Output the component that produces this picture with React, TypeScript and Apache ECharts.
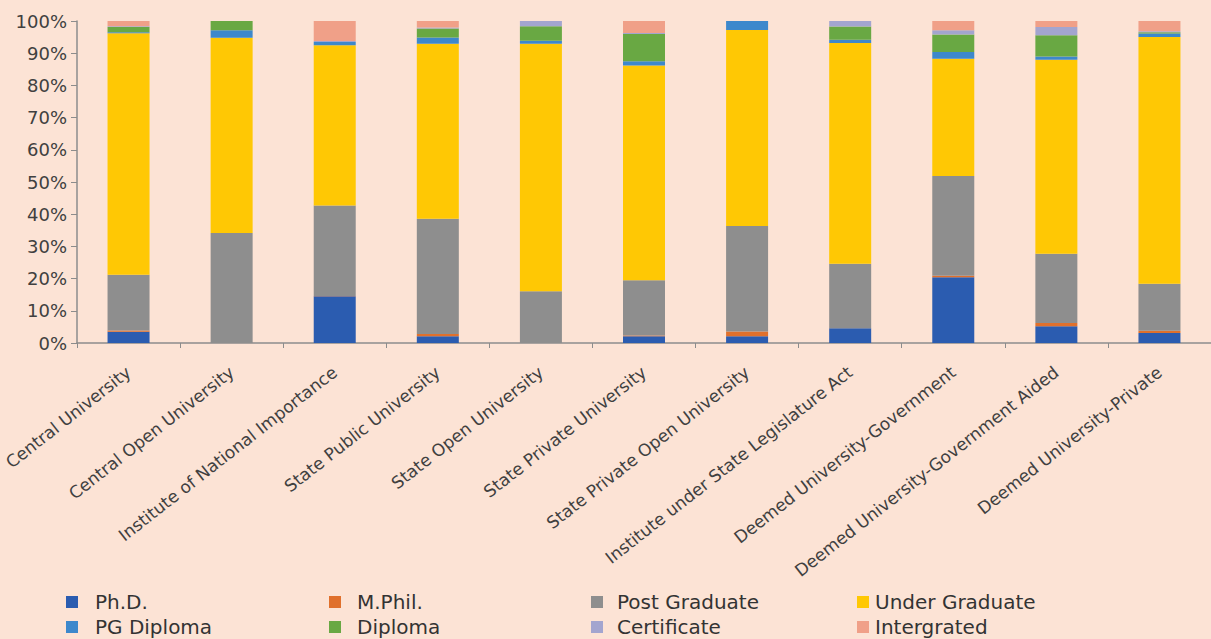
import React, { useEffect, useRef } from "react";
import * as echarts from "echarts";

const categories = [
  "Central University",
  "Central Open University",
  "Institute of National Importance",
  "State Public University",
  "State Open University",
  "State Private University",
  "State Private Open University",
  "Institute under State Legislature Act",
  "Deemed University-Government",
  "Deemed University-Government Aided",
  "Deemed University-Private",
];

const phd = [3.5, 0, 14.5, 2.1, 0, 2.1, 2.1, 4.6, 20.4, 5.2, 3.1];
const mphil = [0.4, 0, 0.1, 0.7, 0, 0.2, 1.5, 0, 0.5, 1.0, 0.7];
const postGraduate = [17.3, 34.2, 28.1, 35.8, 16.1, 17.2, 32.7, 20.0, 31.0, 21.5, 14.6];
const underGraduate = [75.0, 60.6, 49.8, 54.3, 76.8, 66.7, 60.9, 68.6, 36.4, 60.3, 76.6];
const pgDiploma = [0.3, 2.3, 1.0, 2.0, 1.0, 1.3, 2.8, 1.0, 2.1, 1.0, 1.1];
const diploma = [1.6, 2.9, 0, 2.8, 4.5, 8.5, 0, 4.1, 5.4, 6.6, 0.4];
const certificate = [0.3, 0, 0.3, 0.3, 1.6, 0.3, 0, 1.7, 1.3, 2.5, 0.3];
const integrated = [1.6, 0, 6.2, 2.0, 0, 3.7, 0, 0, 2.9, 1.9, 3.2];

const seriesNames = [
  "Ph.D.",
  "M.Phil.",
  "Post Graduate",
  "Under Graduate",
  "PG Diploma",
  "Diploma",
  "Certificate",
  "Intergrated",
];
const seriesData = [phd, mphil, postGraduate, underGraduate, pgDiploma, diploma, certificate, integrated];
const colors = ["#2b5cb0", "#e0702c", "#8e8e8e", "#ffc804", "#3d88cc", "#69a843", "#a3a5cf", "#f0a088"];

const yTicks = [0, 10, 20, 30, 40, 50, 60, 70, 80, 90, 100];

// legend layout: [left, top, text gap] per series (order of seriesNames)
const legendSlots: [number, number, number][] = [
  [66, 592, 12],
  [329, 592, 11],
  [591, 592, 9],
  [857, 592, 1],
  [66, 617, 12],
  [329, 617, 11],
  [591, 617, 9],
  [857, 617, 1],
];

export default function App() {
  const ref = useRef<HTMLDivElement>(null);
  useEffect(() => {
    if (!ref.current) return;
    const chart = echarts.init(ref.current, null, { renderer: "svg" });
    const font = "DejaVu Sans";
    chart.setOption({
      animation: false,
      backgroundColor: "#fce3d5",
      textStyle: { fontFamily: font },
      grid: { left: 77, right: -8, top: 21, bottom: 296, containLabel: false },
      legend: seriesNames.map((name, i) => ({
        orient: "horizontal",
        left: legendSlots[i][0],
        top: legendSlots[i][1],
        padding: 0,
        itemWidth: 12,
        itemHeight: 12,
        icon: "rect",
        data: [name],
        selectedMode: false,
        textStyle: {
          fontSize: 20,
          color: "#333333",
          fontFamily: font,
          padding: [0, 0, 0, legendSlots[i][2]],
        },
      })),
      xAxis: {
        type: "category",
        data: categories,
        axisLine: { lineStyle: { color: "#8c8c8c", width: 1.5 } },
        axisTick: { show: true, length: 5, alignWithLabel: false, lineStyle: { color: "#8c8c8c" } },
        axisLabel: {
          rotate: 38,
          interval: 0,
          margin: 27,
          fontSize: 17,
          color: "#404040",
          fontFamily: font,
        },
      },
      yAxis: {
        type: "value",
        min: 0,
        max: yTicks[yTicks.length - 1],
        interval: 10,
        splitLine: { show: false },
        axisLine: { show: true, lineStyle: { color: "#8c8c8c", width: 1.5 } },
        axisTick: { show: true, length: 6, lineStyle: { color: "#8c8c8c" } },
        axisLabel: {
          formatter: "{value}%",
          fontSize: 18,
          color: "#404040",
          margin: 10,
          fontFamily: font,
        },
      },
      series: seriesNames.map((name, i) => ({
        name,
        type: "bar",
        stack: "total",
        barWidth: 42,
        data: seriesData[i],
        itemStyle: { color: colors[i] },
      })),
    });
    return () => chart.dispose();
  }, []);
  return (
    <div
      ref={ref}
      style={{ position: "fixed", left: 0, top: 0, width: 1211, height: 639 }}
    />
  );
}
